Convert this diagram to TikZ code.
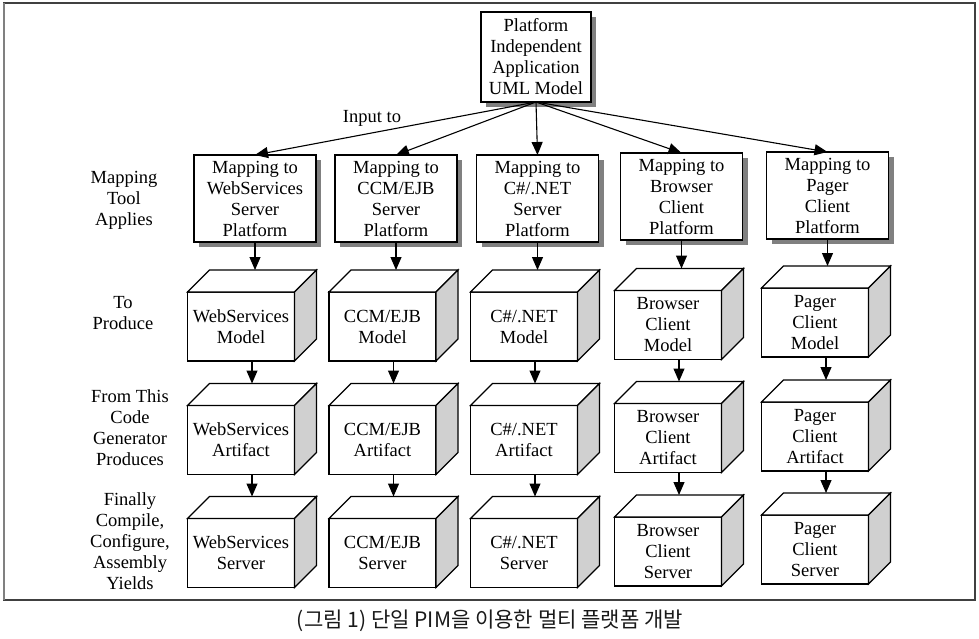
\documentclass[tikz,border=0pt]{standalone}
\usepackage{fontspec}
\usepackage{graphicx}
\setmainfont{Liberation Serif}
\newfontfamily\cjkfont{Noto Sans CJK KR}
\usetikzlibrary{arrows.meta,calc,shadows}
\definecolor{sidegray}{RGB}{208,208,208}
\definecolor{shadowgray}{RGB}{128,128,128}
\newcommand\cubeat[4]{%
  \node[face] (#1) at (#2,#3) {#4};
  \filldraw[cubeline, fill=white] (#1.north west) -- ($(#1.north west)+(22,-22)$) -- ($(#1.north east)+(22,-22)$) -- (#1.north east) -- cycle;
  \filldraw[cubeline, fill=sidegray] (#1.north east) -- ($(#1.north east)+(22,-22)$) -- ($(#1.south east)+(22,-22)$) -- (#1.south east) -- cycle;
  \coordinate (#1-in) at ($(#1.north)+(11,-22)$);
  \coordinate (#1-out) at ($(#1.south)+(11,0)$);
}
\begin{document}
\begin{tikzpicture}[x=1pt,y=-1pt,
  every node/.style={font=\fontsize{18.5}{21}\selectfont},
  lbl/.style={align=center, inner sep=0pt},
  cubeline/.style={line width=1.2pt, line join=miter},
  mapbox/.style={draw, line width=1.2pt, fill=white, minimum width=122pt, minimum height=87pt,
    align=center, inner sep=0pt, outer sep=0pt,
    drop shadow={fill=shadowgray, opacity=1, shadow xshift=5pt, shadow yshift=-5pt}},
  face/.style={draw, line width=1.2pt, fill=white, minimum width=107pt, minimum height=69pt,
    align=center, inner sep=0pt, outer sep=0pt},
  arr/.style={line width=1.1pt, -{Triangle[length=13pt,width=11pt]}},
]
\useasboundingbox (0,0) rectangle (979,639);
% frame
\draw[line width=1.2pt, black!75] (4,3) rectangle (975,600);
\draw[line width=2pt, gray] (4,3) -- (4,600);

% top box
\node[mapbox, minimum width=110pt, minimum height=90pt] (top) at (536,57)
  {Platform\\Independent\\Application\\UML Model};

% mapping boxes
\node[mapbox] (m1) at (255,198.5) {Mapping to\\WebServices\\Server\\Platform};
\node[mapbox] (m2) at (396,198.5) {Mapping to\\CCM/EJB\\Server\\Platform};
\node[mapbox] (m3) at (537.5,198.5) {Mapping to\\C\#/.NET\\Server\\Platform};
\node[mapbox] (m4) at (681.5,196.5) {Mapping to\\Browser\\Client\\Platform};
\node[mapbox] (m5) at (827.5,195.5) {Mapping to\\Pager\\Client\\Platform};

\node[lbl] (inputto) at (372,118) {Input to};

% cubes
\cubeat{a1}{241}{326.5}{WebServices\\Model}
\cubeat{a2}{382.5}{326.5}{CCM/EJB\\Model}
\cubeat{a3}{524}{326.5}{C\#/.NET\\Model}
\cubeat{a4}{668}{325}{Browser\\Client\\Model}
\cubeat{a5}{815}{322.5}{Pager\\Client\\Model}

\cubeat{b1}{241}{440}{WebServices\\Artifact}
\cubeat{b2}{382.5}{440}{CCM/EJB\\Artifact}
\cubeat{b3}{524}{440}{C\#/.NET\\Artifact}
\cubeat{b4}{668}{438}{Browser\\Client\\Artifact}
\cubeat{b5}{815}{436.5}{Pager\\Client\\Artifact}

\cubeat{s1}{241}{553}{WebServices\\Server}
\cubeat{s2}{382.5}{553}{CCM/EJB\\Server}
\cubeat{s3}{524}{553}{C\#/.NET\\Server}
\cubeat{s4}{668}{551.5}{Browser\\Client\\Server}
\cubeat{s5}{815}{549.5}{Pager\\Client\\Server}

% left labels
\node[lbl] (l1) at (124,200) {Mapping\\Tool\\Applies};
\node[lbl] (l2) at (123,313) {To\\Produce};
\node[lbl] (l3) at (130,427.5) {From This\\Code\\Generator\\Produces};
\node[lbl] (l4) at (130,541) {Finally\\Compile,\\Configure,\\Assembly\\Yields};

% arrows from top
\foreach \m in {m1,m2,m3,m4,m5}
  \draw[arr] (top.south) -- (\m.north);

% arrows down the columns
\foreach \i in {1,...,5}{
  \draw[arr] (m\i.south) -- (m\i.south |- a\i-in);
  \draw[arr] (a\i-out) -- (b\i-in);
  \draw[arr] (b\i-out) -- (s\i-in);
}

% caption
\node[inner sep=0pt, text=black!90] (cap) at (490,621)
  {\resizebox{386pt}{1.12\height}{\cjkfont\fontsize{19}{19}\selectfont (그림 1) 단일 PIM을 이용한 멀티 플랫폼 개발}};
\end{tikzpicture}
\end{document}
